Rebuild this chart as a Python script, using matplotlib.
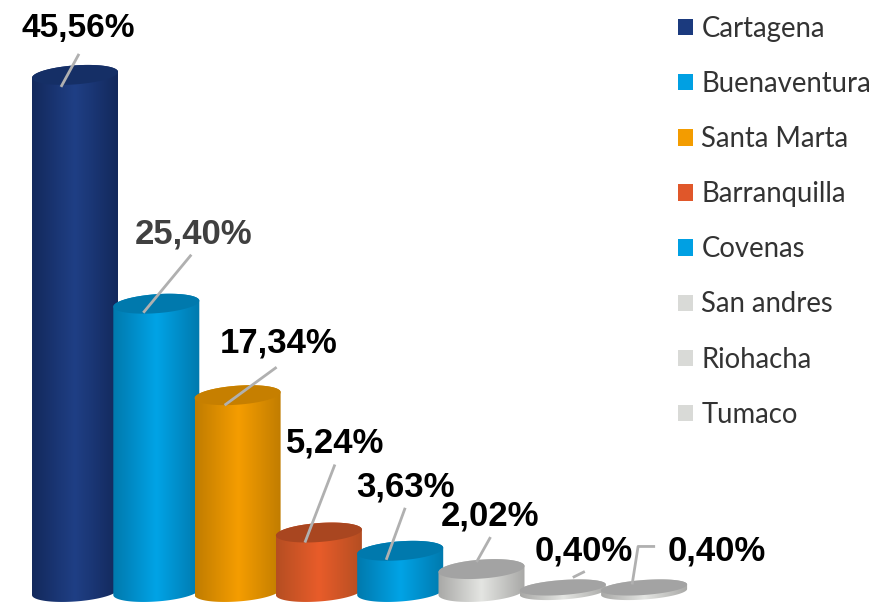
import numpy as np
import matplotlib
matplotlib.use('Agg')
import matplotlib.pyplot as plt
from matplotlib.colors import LinearSegmentedColormap
from matplotlib.patches import Patch, Polygon

ports = ['Cartagena', 'Buenaventura', 'Santa Marta', 'Barranquilla',
         'Covenas', 'San andres', 'Riohacha', 'Tumaco']
shares = [45.56, 25.40, 17.34, 5.24, 3.63, 2.02, 0.40, 0.40]
labels = ['45,56%', '25,40%', '17,34%', '5,24%', '3,63%', '2,02%', '0,40%', '0,40%']

# colours: light side, dark side, top of the cylinder, legend
light = ['#1f3f85', '#00a3e6', '#f59d00', '#e85c2a', '#00a3e6', '#e4e5e2', '#e4e5e2', '#e4e5e2']
dark = ['#13295c', '#0079ad', '#c07c00', '#b54e22', '#0079ad', '#a8a8a6', '#a8a8a6', '#a8a8a6']
top = ['#152f66', '#0079ad', '#c67f00', '#a94620', '#0079ad', '#a3a3a3', '#a3a3a3', '#a3a3a3']
legend_col = ['#1b3a7e', '#00a0e3', '#f39c00', '#e0572a', '#00a0e3', '#d9dad7', '#d9dad7', '#d9dad7']

# leader lines and labels, in pixels relative to the centre of each top
leaders = [[(-14, 12), (4, -21)], [(-13, 9), (35, -49)], [(-13, 10), (39, -28)],
           [(-14, 10), (16, -68)], [(-14, 9), (5, -43)], [(-5, -7), (9, -32)],
           [(10, -10), (22, -16)], [(-12, -3), (-6, -41), (11, -41)]]
label_pos = [(3, -46), (37, -70), (41, -52), (16, -90), (5, -64), (8, -53), (21, -36), (73, -36)]
label_size = [24, 25, 25, 25, 25, 25, 25, 25]

W, H = 877, 602
x_step, y_unit = 81.3, 11.35
x0, y0 = 75, 592


def px(dx, dy):
    return dx / x_step, -dy / y_unit


fig = plt.figure(figsize=(W / 100, H / 100), dpi=100)
ax = fig.add_axes([0, 0, 1, 1])
a = 43 / x_step
b = 9.5 / y_unit
tilt = 3 / y_unit
t = np.linspace(0, 2 * np.pi, 121)

for i, v in enumerate(shares):
    z = 2 + i
    hh = b if v > 1 else 7.5 / y_unit
    cmap = LinearSegmentedColormap.from_list('c', [dark[i], light[i], dark[i]])
    # lower half of the base ring, then upper half of the top ring
    base = np.c_[i + a * np.cos(t[60:]), hh * np.sin(t[60:]) + tilt * np.cos(t[60:])]
    upper = np.c_[i + a * np.cos(t[:61]), v + hh * np.sin(t[:61]) + tilt * np.cos(t[:61])]
    im = ax.imshow(np.linspace(0, 1, 256)[None, :], cmap=cmap, aspect='auto', zorder=z,
                   extent=(i - a, i + a, -3, v + 3), interpolation='bilinear')
    clip = Polygon(np.vstack([base, upper]), transform=ax.transData, fill=False, edgecolor='none')
    ax.add_patch(clip)
    im.set_clip_path(clip)
    ax.fill(i + a * np.cos(t), v + hh * np.sin(t) + tilt * np.cos(t),
            color=top[i], zorder=z + .1, lw=0)

for i, v in enumerate(shares):
    pts = np.array([px(*p) for p in leaders[i]])
    ax.plot(i + pts[:, 0], v + pts[:, 1], color='#b0b0b0', lw=2, zorder=20,
            solid_capstyle='butt')
    dx, dy = px(*label_pos[i])
    ax.text(i + dx, v + dy, labels[i], ha='center', va='center', fontsize=label_size[i],
            fontweight='bold', family='Liberation Sans', zorder=21,
            color='#404040' if i == 1 else '#000000')

ax.set_xlim(-x0 / x_step, (W - x0) / x_step)
ax.set_ylim(-(H - y0) / y_unit, y0 / y_unit)
ax.axis('off')

handles = [Patch(facecolor=c, edgecolor='none') for c in legend_col]
fig.legend(handles, ports, loc='upper left', bbox_to_anchor=(664 / W, 1 - 2 / H),
           frameon=False, prop={'family': 'Lato', 'size': 19.8}, labelcolor='#333333',
           handlelength=0.546, handleheight=0.546, handletextpad=0.31, labelspacing=1.06,
           borderpad=0.5, borderaxespad=0)

fig.savefig('out.png', dpi=100)
